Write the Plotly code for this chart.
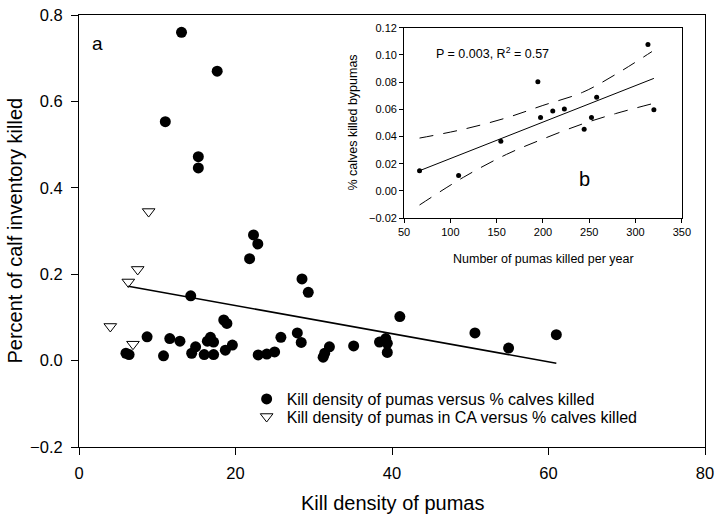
import plotly.graph_objects as go

# Main panel (a): kill density vs percent of calf inventory killed
kill_density = [13.1, 17.66, 11.03, 15.25, 15.25, 22.3, 22.85, 21.8, 28.5, 29.3,
                14.28, 41.0, 18.5, 18.9, 8.7, 11.6, 12.9, 6.0, 6.4, 10.8,
                16.8, 17.2, 16.4, 14.9, 14.4, 16.0, 17.2, 18.7, 19.6, 22.9,
                24.0, 25.0, 25.8, 27.9, 28.4, 31.2, 31.4, 32.0, 35.1, 38.4,
                39.2, 39.4, 39.4, 50.6, 54.9, 61.0]
pct_killed = [0.760, 0.670, 0.553, 0.472, 0.446, 0.291, 0.270, 0.236, 0.189, 0.158,
              0.150, 0.102, 0.094, 0.086, 0.055, 0.051, 0.045, 0.017, 0.014, 0.011,
              0.054, 0.043, 0.045, 0.032, 0.017, 0.014, 0.014, 0.024, 0.036, 0.013,
              0.015, 0.020, 0.054, 0.064, 0.042, 0.008, 0.017, 0.032, 0.034, 0.043,
              0.051, 0.040, 0.019, 0.064, 0.029, 0.060]

ca_density = [8.9, 7.5, 6.3, 4.0, 6.9]
ca_pct = [0.345, 0.211, 0.182, 0.079, 0.038]

reg_x = [6.3, 61.0]
reg_y = [0.172, -0.006]

# Inset panel (b)
pumas_killed = [66.7, 108.9, 154.5, 194.5, 197.4, 210.6, 223.1, 244.5, 252.4, 258.0, 313.4, 319.8]
calves_pct = [0.0148, 0.0112, 0.0364, 0.0803, 0.054, 0.0587, 0.0602, 0.0453, 0.054, 0.0688, 0.1077, 0.0597]

fit_x = [66.7, 319.8]
fit_y = [0.0148, 0.0827]

ci_x = [66.7, 114.2, 160.6, 199.9, 242.7, 278.4, 317.7]
ci_upper = [0.0388, 0.0453, 0.0537, 0.0628, 0.0724, 0.0856, 0.1024]
ci_lower = [-0.0104, 0.0100, 0.0268, 0.0381, 0.0492, 0.0568, 0.0640]

FONT = "Arial, Liberation Sans, sans-serif"

fig = go.Figure()

fig.add_trace(go.Scatter(x=kill_density, y=pct_killed, mode="markers",
                         marker=dict(symbol="circle", size=11, color="black"),
                         name="Kill density of pumas versus % calves killed",
                         legend="legend"))
fig.add_trace(go.Scatter(x=ca_density, y=ca_pct, mode="markers",
                         marker=dict(symbol="triangle-down-open", size=11, color="black",
                                     line=dict(width=1, color="black")),
                         name="Kill density of pumas in CA versus % calves killed",
                         legend="legend2"))
fig.add_trace(go.Scatter(x=reg_x, y=reg_y, mode="lines",
                         line=dict(color="black", width=1.5), showlegend=False))

# inset
fig.add_trace(go.Scatter(x=ci_x, y=ci_upper, mode="lines", xaxis="x2", yaxis="y2",
                         line=dict(color="black", width=1, dash="14px,10px", shape="spline"),
                         showlegend=False))
fig.add_trace(go.Scatter(x=ci_x, y=ci_lower, mode="lines", xaxis="x2", yaxis="y2",
                         line=dict(color="black", width=1, dash="14px,10px", shape="spline"),
                         showlegend=False))
fig.add_trace(go.Scatter(x=fit_x, y=fit_y, mode="lines", xaxis="x2", yaxis="y2",
                         line=dict(color="black", width=1), showlegend=False))
fig.add_trace(go.Scatter(x=pumas_killed, y=calves_pct, mode="markers", xaxis="x2", yaxis="y2",
                         marker=dict(symbol="circle", size=5, color="black"),
                         showlegend=False))

axis_common = dict(showline=True, linecolor="black", linewidth=1, mirror=True,
                   showgrid=False, zeroline=False, ticks="outside", tickcolor="black")

leg_common = dict(xanchor="left", yanchor="middle", font=dict(size=16),
                  bgcolor="rgba(0,0,0,0)", borderwidth=0)

fig.update_layout(
    width=720, height=519,
    margin=dict(l=79, r=10, t=6, b=72),
    paper_bgcolor="white", plot_bgcolor="white",
    font=dict(family=FONT, color="black"),
    xaxis=dict(range=[0, 80], dtick=20, ticklen=7, tickfont=dict(size=16.5),
               ticklabelstandoff=4, **axis_common),
    yaxis=dict(range=[-0.2, 0.8], dtick=0.2, tickformat=".1f", ticklen=7,
               tickfont=dict(size=16.5), ticklabelstandoff=5, **axis_common),
    xaxis2=dict(domain=[0.5193, 0.963], anchor="y2", range=[50, 350], dtick=50, ticklen=4,
                tickfont=dict(size=11), **axis_common),
    yaxis2=dict(domain=[0.530, 0.9707], anchor="x2", range=[-0.02, 0.12], dtick=0.02,
                tickformat=".2f", ticklen=4, tickfont=dict(size=11), **axis_common),
    legend=dict(x=0.2678, y=0.111, **leg_common),
    legend2=dict(x=0.2678, y=0.0703, **leg_common),
    showlegend=True,
    annotations=[
        dict(text="Kill density of pumas", xref="paper", yref="paper", x=0.5, y=-0.13,
             showarrow=False, font=dict(size=20), xanchor="center", yanchor="middle"),
        dict(text="Percent of calf inventory killed", xref="paper", yref="paper", x=-0.103, y=0.5,
             showarrow=False, font=dict(size=20), textangle=-90, xanchor="center", yanchor="middle"),
        dict(text="a", xref="paper", yref="paper", x=0.030, y=0.934, showarrow=False,
             font=dict(size=19), xanchor="center", yanchor="middle"),
        dict(text="b", xref="paper", yref="paper", x=0.808, y=0.621, showarrow=False,
             font=dict(size=20), xanchor="center", yanchor="middle"),
        dict(text="P = 0.003, R<sup>2</sup> = 0.57", xref="x2", yref="y2", x=82, y=0.101,
             showarrow=False, font=dict(size=12.5), xanchor="left", yanchor="middle"),
        dict(text="Number of pumas killed per year", xref="paper", yref="paper", x=0.7417, y=0.435,
             showarrow=False, font=dict(size=12.5), xanchor="center", yanchor="middle"),
        dict(text="% calves killed bypumas", xref="paper", yref="paper", x=0.437, y=0.75,
             showarrow=False, font=dict(size=12.5), textangle=-90, xanchor="center", yanchor="middle"),
    ],
)

fig.write_html("out.html", config={"displayModeBar": False},
               post_script="document.body.style.margin='0';")
